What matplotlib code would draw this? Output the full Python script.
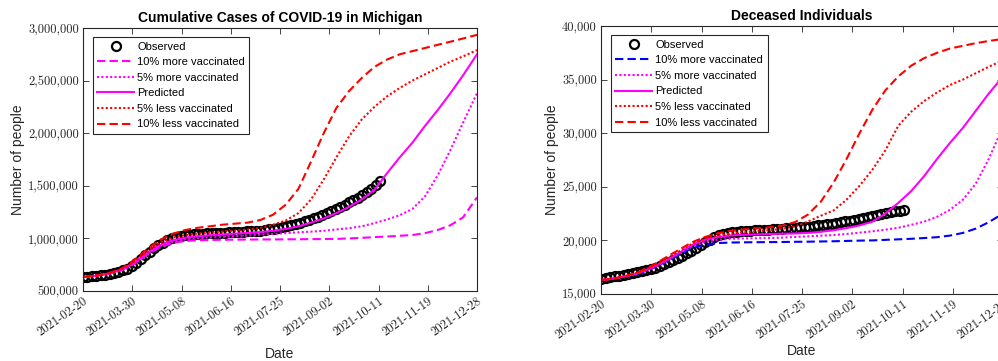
import numpy as np
import matplotlib
matplotlib.use('Agg')
import matplotlib.pyplot as plt
import matplotlib.ticker as ticker

plt.rcParams['font.family'] = ['Liberation Sans', 'DejaVu Sans']
plt.rcParams['axes.unicode_minus'] = False

# days since 2021-02-20
model_days = [0, 10, 20, 30, 40, 50, 60, 70, 80, 90, 100, 110, 120, 130, 140, 150,
              160, 170, 180, 190, 200, 210, 220, 230, 240, 250, 260, 270, 280, 290, 300, 311]
obs_days = list(np.arange(0, 235, 3.5))

date_labels = ['2021-02-20', '2021-03-30', '2021-05-08', '2021-06-16', '2021-07-25',
               '2021-09-02', '2021-10-11', '2021-11-19', '2021-12-28']

# cumulative cases, millions
cases_obs = [0.633, 0.637, 0.641, 0.645, 0.650, 0.655, 0.661, 0.668, 0.680, 0.695,
             0.713, 0.735, 0.765, 0.800, 0.840, 0.875, 0.905, 0.935, 0.960, 0.985,
             1.000, 1.013, 1.022, 1.030, 1.035, 1.040, 1.043, 1.046, 1.048, 1.050,
             1.052, 1.054, 1.056, 1.058, 1.060, 1.062, 1.064, 1.066, 1.068, 1.071,
             1.075, 1.080, 1.085, 1.091, 1.098, 1.106, 1.115, 1.126, 1.138, 1.150,
             1.163, 1.177, 1.192, 1.208, 1.225, 1.243, 1.262, 1.281, 1.300, 1.320,
             1.342, 1.364, 1.388, 1.413, 1.440, 1.470, 1.505, 1.550]
cases_more10 = [0.633, 0.645, 0.663, 0.695, 0.755, 0.84, 0.91, 0.955, 0.975, 0.982,
                0.985, 0.987, 0.988, 0.989, 0.99, 0.99, 0.991, 0.992, 0.993, 0.994,
                0.995, 1.0, 1.005, 1.012, 1.018, 1.025, 1.032, 1.05, 1.08, 1.125, 1.20, 1.39]
cases_more5 = [0.633, 0.645, 0.664, 0.698, 0.76, 0.85, 0.92, 0.965, 0.99, 1.0,
               1.01, 1.015, 1.02, 1.028, 1.035, 1.043, 1.05, 1.058, 1.064, 1.072,
               1.085, 1.097, 1.115, 1.145, 1.18, 1.22, 1.28, 1.40, 1.60, 1.84, 2.10, 2.38]
cases_pred = [0.633, 0.645, 0.665, 0.70, 0.765, 0.855, 0.93, 0.98, 1.005, 1.02,
              1.03, 1.038, 1.045, 1.052, 1.06, 1.072, 1.09, 1.115, 1.15, 1.19,
              1.24, 1.30, 1.37, 1.46, 1.62, 1.77, 1.91, 2.07, 2.22, 2.38, 2.55, 2.75]
cases_less5 = [0.633, 0.646, 0.666, 0.705, 0.775, 0.87, 0.955, 1.005, 1.03, 1.045,
               1.055, 1.065, 1.075, 1.085, 1.10, 1.13, 1.17, 1.24, 1.37, 1.56,
               1.77, 1.97, 2.13, 2.25, 2.35, 2.43, 2.50, 2.56, 2.62, 2.68, 2.73, 2.79]
cases_less10 = [0.633, 0.645, 0.668, 0.71, 0.79, 0.89, 0.98, 1.04, 1.078, 1.10,
                1.115, 1.13, 1.14, 1.15, 1.175, 1.225, 1.32, 1.47, 1.73, 2.0,
                2.24, 2.40, 2.525, 2.63, 2.70, 2.75, 2.78, 2.81, 2.84, 2.87, 2.90, 2.935]

# deceased, thousands
deaths_obs = [16.37, 16.45, 16.55, 16.64, 16.72, 16.80, 16.88, 16.96, 17.05, 17.14,
              17.22, 17.32, 17.45, 17.62, 17.82, 18.00, 18.16, 18.34, 18.55, 18.78,
              19.02, 19.28, 19.55, 19.83, 20.08, 20.30, 20.48, 20.62, 20.72, 20.78,
              20.82, 20.86, 20.89, 20.92, 20.95, 20.97, 20.99, 21.01, 21.03, 21.06,
              21.09, 21.12, 21.15, 21.18, 21.21, 21.25, 21.29, 21.34, 21.39, 21.45,
              21.51, 21.57, 21.63, 21.70, 21.77, 21.85, 21.93, 22.01, 22.09, 22.18,
              22.27, 22.37, 22.47, 22.56, 22.64, 22.71, 22.77, 22.83]
deaths_more10 = [16.3, 16.45, 16.65, 16.95, 17.4, 18.0, 18.65, 19.25, 19.6, 19.75,
                 19.8, 19.82, 19.83, 19.84, 19.85, 19.87, 19.88, 19.9, 19.92, 19.95,
                 19.98, 20.0, 20.05, 20.1, 20.15, 20.22, 20.3, 20.45, 20.7, 21.1, 21.7, 22.5]
deaths_more5 = [16.3, 16.45, 16.67, 16.98, 17.45, 18.08, 18.75, 19.4, 19.85, 20.05,
                20.15, 20.18, 20.2, 20.22, 20.26, 20.32, 20.38, 20.44, 20.5, 20.6,
                20.72, 20.85, 21.0, 21.18, 21.45, 21.75, 22.2, 22.85, 23.8, 25.3, 27.6, 30.6]
deaths_pred = [16.3, 16.45, 16.68, 17.0, 17.5, 18.12, 18.8, 19.55, 20.05, 20.3,
               20.45, 20.52, 20.56, 20.6, 20.62, 20.65, 20.7, 20.8, 20.95, 21.15,
               21.4, 21.75, 22.5, 23.5, 24.6, 26.0, 27.6, 29.1, 30.5, 32.1, 33.7, 35.3]
deaths_less5 = [16.3, 16.45, 16.7, 17.05, 17.58, 18.25, 18.95, 19.65, 20.15, 20.45,
                20.62, 20.75, 20.85, 20.95, 21.08, 21.3, 21.75, 22.3, 22.8, 23.8,
                25.1, 26.6, 28.4, 30.7, 32.0, 33.0, 33.8, 34.5, 35.0, 35.6, 36.2, 36.8]
deaths_less10 = [16.3, 16.45, 16.72, 17.1, 17.68, 18.4, 19.1, 19.8, 20.3, 20.65,
                 20.88, 21.02, 21.12, 21.22, 21.37, 21.7, 22.4, 23.6, 25.4, 27.6,
                 30.0, 32.2, 34.0, 35.3, 36.3, 37.0, 37.5, 37.9, 38.15, 38.4, 38.6, 38.8]

GRAY = '#262626'
MAG = '#ff00ff'
DASH = (0, (4, 2))
DOT = (0, (1, 1.1))


def draw_panel(ax, obs, more10, more5, pred, less5, less10, scale, more10_color,
               yticks, title, xpad=6):
    ax.plot(obs_days, np.array(obs) * scale, 'o', mfc='none', mec='k', mew=1.6, ms=6.5,
            label='Observed')
    ax.plot(model_days, np.array(more10) * scale, color=more10_color, ls=DASH, lw=1.5,
            label='10% more vaccinated')
    ax.plot(model_days, np.array(more5) * scale, color=MAG, ls=DOT, lw=1.5,
            label='5% more vaccinated')
    ax.plot(model_days, np.array(pred) * scale, color=MAG, ls='-', lw=1.5,
            label='Predicted')
    ax.plot(model_days, np.array(less5) * scale, color='r', ls=DOT, lw=1.5,
            label='5% less vaccinated')
    ax.plot(model_days, np.array(less10) * scale, color='r', ls=DASH, lw=1.5,
            label='10% less vaccinated')

    ax.set_xlim(0, 311)
    ax.set_ylim(yticks[0], yticks[-1])
    ax.set_xticks(np.linspace(0, 311, 9))
    ax.set_xticklabels(date_labels, rotation=35, ha='right', va='top',
                       rotation_mode='anchor', family='cmr10', fontsize=9, color=GRAY)
    ax.set_yticks(yticks)
    ax.yaxis.set_major_formatter(ticker.FuncFormatter(lambda v, p: f'{int(v):,}'))
    for lab in ax.get_yticklabels():
        lab.set_family('cmr10')
        lab.set_fontsize(9)
        lab.set_color(GRAY)
    ax.tick_params(direction='in', top=True, right=True, length=4, width=0.6, color=GRAY,
                   pad=3)
    for s in ax.spines.values():
        s.set_color(GRAY)
        s.set_linewidth(0.8)

    ax.set_title(title, fontsize=10, fontweight='bold', pad=4)
    ax.set_xlabel('Date', fontsize=10, color=GRAY, labelpad=xpad)
    ax.set_ylabel('Number of people', fontsize=10, color=GRAY, labelpad=2)

    leg = ax.legend(loc='upper left', bbox_to_anchor=(0.025, 0.965), fontsize=8,
                    handlelength=3.3, handletextpad=0.3, labelspacing=0.5,
                    borderpad=0.4, borderaxespad=0, fancybox=False, framealpha=1,
                    edgecolor=GRAY)
    leg.get_frame().set_linewidth(0.8)


fig = plt.figure(figsize=(9.98, 3.61), dpi=100)
ax1 = fig.add_axes([83 / 998, 70 / 361, 394 / 998, 263 / 361])
ax2 = fig.add_axes([601 / 998, 67 / 361, 402 / 998, 268 / 361])

draw_panel(ax1, cases_obs, cases_more10, cases_more5, cases_pred, cases_less5,
           cases_less10, 1e6, MAG, [500000, 1000000, 1500000, 2000000, 2500000, 3000000],
           'Cumulative Cases of COVID-19 in Michigan')
draw_panel(ax2, deaths_obs, deaths_more10, deaths_more5, deaths_pred, deaths_less5,
           deaths_less10, 1e3, 'b', [15000, 20000, 25000, 30000, 35000, 40000],
           'Deceased Individuals', xpad=2)

fig.savefig('out.png', dpi=100)
